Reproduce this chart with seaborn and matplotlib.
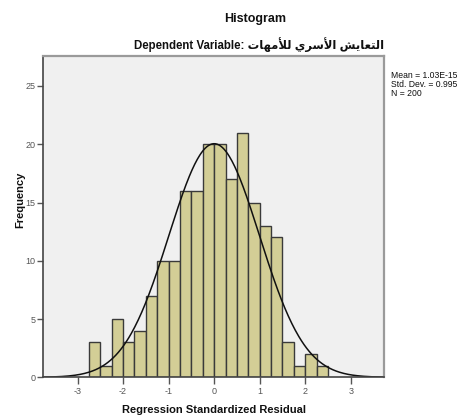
import numpy as np
import pandas as pd
import seaborn as sns
import matplotlib.pyplot as plt

# ---- data ----
bin_edges = [-2.75, -2.5, -2.25, -2.0, -1.75, -1.5, -1.25, -1.0, -0.75, -0.5, -0.25,
             0.0, 0.25, 0.5, 0.75, 1.0, 1.25, 1.5, 1.75, 2.0, 2.25, 2.5]
counts = [3, 1, 5, 3, 4, 7, 10, 10, 16, 16, 20, 20, 17, 21, 15, 13, 12, 3, 1, 2, 1]
mean_val = 1.03e-15
std_val = 0.995
n_val = 200
x_ticks = [-3, -2, -1, 0, 1, 2, 3]
y_ticks = [0, 5, 10, 15, 20, 25]
legend_lines = ["Mean = 1.03E-15", "Std. Dev. = 0.995", "N = 200"]

# Arabic subtitle, pre-shaped presentation forms in visual (left-to-right) order
# logical text: "التعايش الأسري للأمهات"
w3 = "\uFE95\uFE8E\uFEEC\uFEE3\uFEF8\uFEDF"          # للأمهات
w2 = "\uFEF1\uFEAE\uFEB3\uFEF7\uFE8D"                # الأسري
w1 = "\uFEB6\uFEF3\uFE8E\uFECC\uFE98\uFEDF\uFE8D"    # التعايش
subtitle = "Dependent Variable: " + w3 + " " + w2 + " " + w1

sns.set_theme(style="white")
plt.rcParams['font.family'] = ['Liberation Sans', 'DejaVu Sans']

edges = np.array(bin_edges)
centers = (edges[:-1] + edges[1:]) / 2
df = pd.DataFrame({"resid": centers, "count": counts})

fig = plt.figure(figsize=(4.6, 4.15), dpi=100)
fig.patch.set_facecolor("white")
ax = fig.add_axes([0.0928, 0.0908, 0.7426, 0.7742])
ax.set_facecolor("#F0F0F0")

sns.histplot(data=df, x="resid", weights="count", bins=bin_edges, ax=ax,
             color="#D3CE96", edgecolor="#3a3a3a", linewidth=1.0, alpha=1.0)

# fitted normal curve (as SPSS draws it)
bw = bin_edges[1] - bin_edges[0]
xs = np.linspace(-3.8, 3.8, 400)
ys = n_val * bw / (std_val * np.sqrt(2 * np.pi)) * np.exp(-0.5 * ((xs - mean_val) / std_val) ** 2)
sns.lineplot(x=xs, y=ys, ax=ax, color="#111111", linewidth=1.1)

ax.set_xlim(-3.765, 3.735)
ax.set_ylim(0, 27.57)
ax.set_xticks(x_ticks)
ax.set_xticklabels([str(t) for t in x_ticks])
ax.set_yticks(y_ticks)
ax.set_yticklabels([str(t) for t in y_ticks])
ax.tick_params(axis='both', which='both', direction='out', bottom=True, left=True,
               length=4, width=1, color="#555555", labelcolor="#555555",
               labelsize=6.5, pad=1)
ax.tick_params(axis='x', length=5, pad=2)
for s in ["left", "bottom"]:
    ax.spines[s].set_color("#444444")
    ax.spines[s].set_linewidth(1.2)
for s in ["top", "right"]:
    ax.spines[s].set_color("#9a9a9a")
    ax.spines[s].set_linewidth(1.6)
ax.set_xlabel("")
ax.set_ylabel("")

fig.text(20 / 460, 1 - 200 / 415, "Frequency", rotation=90, ha="center", va="center",
         fontsize=8, fontweight="bold", color="#111111")
fig.text(214 / 460, 1 - 410 / 415, "Regression Standardized Residual", ha="center",
         va="center", fontsize=8, fontweight="bold", color="#111111")
fig.text(255 / 460, 1 - 19 / 415, "Histogram", ha="center", va="center",
         fontsize=9, fontweight="bold", color="#111111")
fig.text(259 / 460, 1 - 45 / 415, subtitle, ha="center", va="center",
         fontsize=8.3, fontweight="bold", color="#111111")
fig.text(391 / 460, 1 - 71 / 415, "\n".join(legend_lines), ha="left", va="top",
         fontsize=6.2, linespacing=1.0, color="#111111")

fig.savefig("out.png", dpi=100, facecolor="white")
